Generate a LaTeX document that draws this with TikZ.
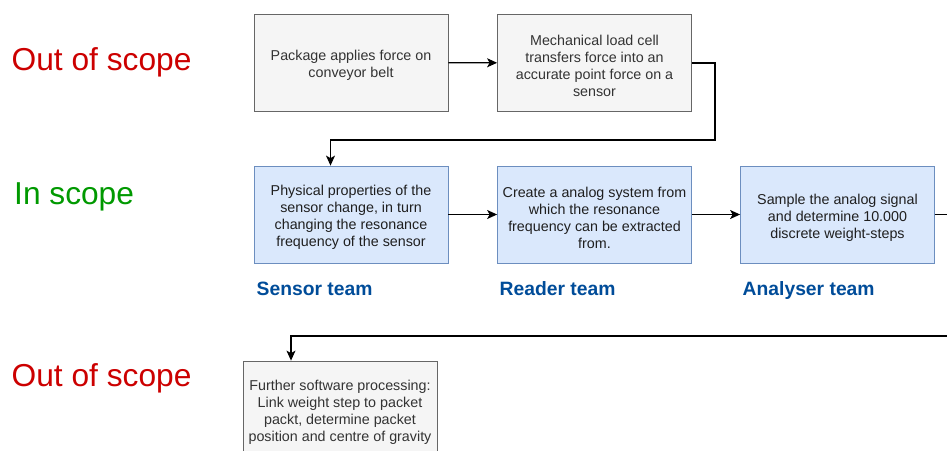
\documentclass[tikz,border=0pt]{standalone}
\usepackage{fontspec}
\setmainfont{Liberation Sans}
\usetikzlibrary{arrows.meta}

\definecolor{greyfill}{HTML}{F5F5F5}
\definecolor{greyline}{HTML}{666666}
\definecolor{greytext}{HTML}{333333}
\definecolor{bluefill}{HTML}{DAE8FC}
\definecolor{blueline}{HTML}{6C8EBF}
\definecolor{teamblue}{HTML}{004C99}
\definecolor{outred}{HTML}{CC0000}
\definecolor{ingreen}{HTML}{009900}

\tikzset{
  box/.style={rectangle, draw, line width=0.8pt, minimum width=194pt,
    minimum height=97pt, inner sep=0pt},
  greybox/.style={box, fill=greyfill, draw=greyline},
  bluebox/.style={box, fill=bluefill, draw=blueline},
  boxtext/.style={inner sep=0pt, align=center,
    font=\fontsize{14.3}{17}\selectfont},
  greytxt/.style={boxtext, text=greytext},
  bluetxt/.style={boxtext, text=black!88},
  team/.style={anchor=base west, inner sep=0pt, text=teamblue,
    font=\fontsize{19.3}{22}\bfseries\selectfont},
  scopelabel/.style={anchor=base west, inner sep=0pt,
    font=\fontsize{31.7}{36}\selectfont},
  arr/.style={line width=1.1pt, black,
    -{Stealth[length=10pt, width=9pt, inset=2.5pt]}},
}

\begin{document}
\begin{tikzpicture}[x=1pt, y=-1pt]
  \useasboundingbox (0,0) rectangle (947,450);
  \clip (0,0) rectangle (947,450);

  % scope labels on the left
  \node[scopelabel, text=outred] (out1) at (11.5,70) {Out of scope};
  \node[scopelabel, text=ingreen] (in1) at (14,204) {In scope};
  \node[scopelabel, text=outred] (out2) at (11.5,386) {Out of scope};

  % mechanical part
  \node[greybox] (b1) at (351,62.5) {};
  \node[greybox] (b2) at (594.5,63) {};
  \node[greytxt] (b1t) at ([yshift=-3pt]b1.center) {Package applies force on\\conveyor belt};
  \node[greytxt] (b2t) at ([yshift=-3pt]b2.center) {Mechanical load cell\\transfers force into an\\accurate point force on a\\sensor};

  % team blocks
  \node[bluebox] (b3) at (351,214.5) {};
  \node[bluebox] (b4) at (594.5,214.5) {};
  \node[bluebox] (b5) at (837.5,214.5) {};
  \node[bluetxt] (b3t) at ([yshift=-3pt]b3.center) {Physical properties of the\\sensor change, in turn\\changing the resonance\\frequency of the sensor};
  \node[bluetxt] (b4t) at ([yshift=-3pt]b4.center) {Create a analog system from\\which the resonance\\frequency can be extracted\\from.};
  \node[bluetxt] (b5t) at ([yshift=-3pt]b5.center) {Sample the analog signal\\and determine 10.000\\discrete weight-steps};

  \node[team] (t3) at (256.5,295) {Sensor team};
  \node[team] (t4) at (499.5,295) {Reader team};
  \node[team] (t5) at (742.5,295) {Analyser team};

  % software part
  \node[greybox] (b6) at (340,409.5) {};
  \node[greytxt] (b6t) at ([yshift=-3pt]b6.center) {Further software processing:\\Link weight step to packet\\packt, determine packet\\position and centre of gravity};

  % connectors
  \coordinate (k1) at (715,140);
  \coordinate (k2) at (980,336);
  \draw[arr] (b1) -- (b2);
  \draw[arr] (b2.east) -| (k1) -| ([xshift=-20.5pt]b3.north);
  \draw[arr] (b3) -- (b4);
  \draw[arr] (b4) -- (b5);
  \draw[arr] (b5.east) -| (k2) -| ([xshift=-49pt]b6.north);
\end{tikzpicture}
\end{document}
